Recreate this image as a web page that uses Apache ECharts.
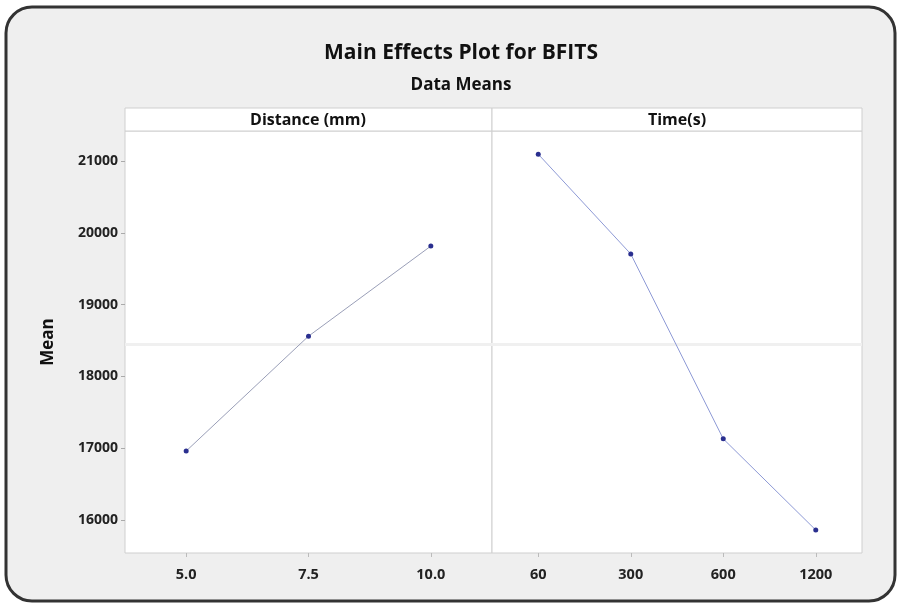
<!DOCTYPE html>
<html><head><meta charset="utf-8">
<script src="https://cdn.jsdelivr.net/npm/echarts@6/dist/echarts.min.js"></script>
<style>html,body{margin:0;padding:0;background:#fff}#c{width:898px;height:608px}</style>
</head><body><div id="c"></div>
<script>
const distanceCats = ['5.0', '7.5', '10.0'];
const distanceMeans = [16960, 18560, 19815];
const timeCats = ['60', '300', '600', '1200'];
const timeMeans = [21095, 19705, 17130, 15860];
const yTicks = [16000, 17000, 18000, 19000, 20000, 21000];
const overallMean = 18447;
const panelTitles = ['Distance (mm)', 'Time(s)'];

const FONT = '"Open Sans", "Noto Sans", sans-serif';
const yMin = 15540, yMax = 21418;
const chart = echarts.init(document.getElementById('c'));

const yAxisBase = (show) => ({
  type: 'value', min: yMin, max: yMax,
  splitLine: { show: false },
  axisLine: { show: false },
  axisTick: { show: show, customValues: yTicks, length: 4, lineStyle: { color: '#aaa' } },
  axisLabel: { show: show, customValues: yTicks, formatter: (v) => String(v), color: '#222', fontFamily: FONT, fontSize: 14, fontWeight: 'bold', margin: 7 }
});
const xAxisBase = (cats, idx) => ({
  type: 'category', data: cats, gridIndex: idx, boundaryGap: true,
  axisLine: { show: false },
  axisTick: { show: true, alignWithLabel: true, length: 4, lineStyle: { color: '#bbb' } },
  axisLabel: { color: '#222', fontFamily: FONT, fontSize: 14.5, fontWeight: 'bold', margin: 14 }
});
const mark = {
  silent: true, symbol: 'none', label: { show: false },
  lineStyle: { color: '#f0f0f0', width: 3, type: 'solid' },
  data: [{ yAxis: overallMean }]
};
const seriesBase = (x, data, lineColor) => ({
  type: 'line', xAxisIndex: x, yAxisIndex: x, data: data,
  symbol: 'circle', symbolSize: 5,
  itemStyle: { color: '#2a2f8f' },
  lineStyle: { color: lineColor, width: 1 },
  markLine: mark, z: 5
});

chart.setOption({
  backgroundColor: 'transparent',
  animation: false,
  title: [
    { text: 'Main Effects Plot for BFITS', left: 456, top: 38, textAlign: 'center',
      textStyle: { fontFamily: FONT, fontSize: 21, fontWeight: 'bold', color: '#111' } },
    { text: 'Data Means', left: 456, top: 72, textAlign: 'center',
      textStyle: { fontFamily: FONT, fontSize: 17, fontWeight: 'bold', color: '#111' } }
  ],
  grid: [
    { left: 125, width: 367, top: 131, bottom: 55, show: true, backgroundColor: '#fff', borderColor: '#cfcfcf', borderWidth: 1 },
    { left: 492, width: 370, top: 131, bottom: 55, show: true, backgroundColor: '#fff', borderColor: '#cfcfcf', borderWidth: 1 }
  ],
  xAxis: [xAxisBase(distanceCats, 0), xAxisBase(timeCats, 1)],
  yAxis: [
    Object.assign(yAxisBase(true), { gridIndex: 0, name: 'Mean', nameLocation: 'middle', nameGap: 68,
      nameTextStyle: { fontFamily: FONT, fontSize: 17, fontWeight: 'bold', color: '#111' } }),
    Object.assign(yAxisBase(false), { gridIndex: 1 })
  ],
  series: [
    seriesBase(0, distanceMeans, '#9a9fb8'),
    seriesBase(1, timeMeans, '#8e9ad6')
  ],
  graphic: [
    { type: 'rect', z: -10, shape: { x: 6, y: 7, width: 889, height: 594, r: 26 },
      style: { fill: '#efefef', stroke: '#333', lineWidth: 3 } },
    { type: 'rect', z: 10, shape: { x: 125, y: 108, width: 367, height: 23 },
      style: { fill: '#fff', stroke: '#cfcfcf', lineWidth: 1 } },
    { type: 'rect', z: 10, shape: { x: 492, y: 108, width: 370, height: 23 },
      style: { fill: '#fff', stroke: '#cfcfcf', lineWidth: 1 } },
    { type: 'text', z: 11, x: 308, y: 120, style: { text: panelTitles[0], fontFamily: FONT, fontSize: 16, fontWeight: 'bold', fill: '#111', align: 'center', verticalAlign: 'middle' } },
    { type: 'text', z: 11, x: 677, y: 120, style: { text: panelTitles[1], fontFamily: FONT, fontSize: 16, fontWeight: 'bold', fill: '#111', align: 'center', verticalAlign: 'middle' } }
  ]
});
</script></body></html>
